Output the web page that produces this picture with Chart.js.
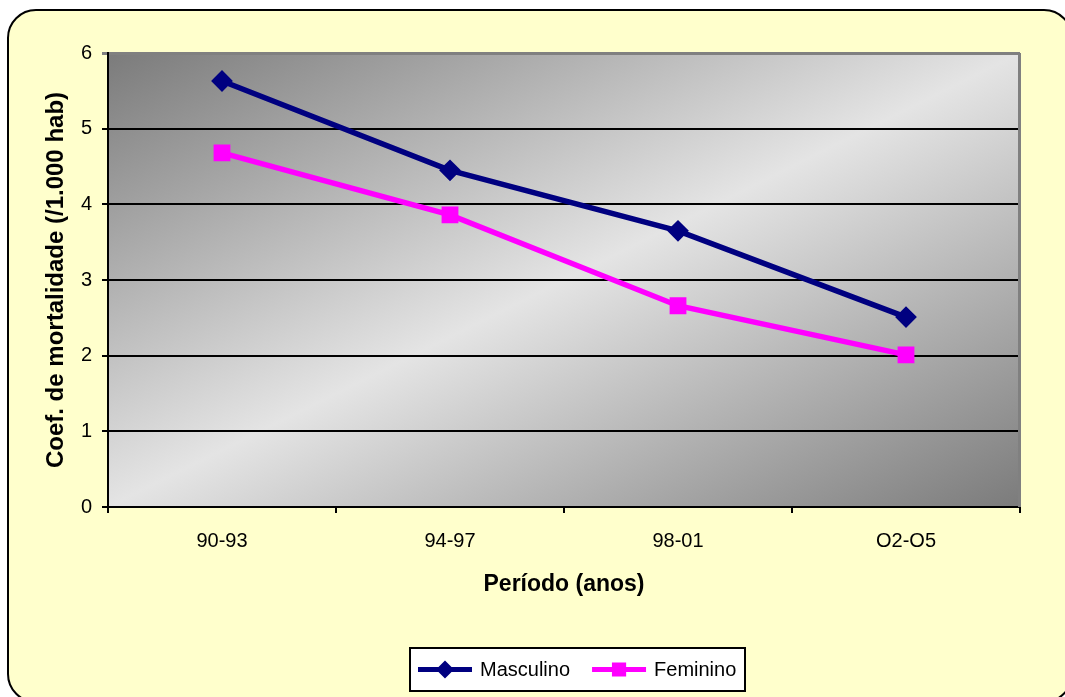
<!DOCTYPE html>
<html>
<head>
<meta charset="utf-8">
<title>Coeficiente de mortalidade</title>
<script src="https://cdn.jsdelivr.net/npm/chart.js@4.4.0/dist/chart.umd.min.js"></script>
<style>
  body { margin: 0; background: #fff; }
  canvas { display: block; }
</style>
</head>
<body>
<canvas id="mortalidadeChart" width="1065" height="697"></canvas>
<script>
// periods and mortality rate per 1000 inhabitants
const periodos = ['90-93', '94-97', '98-01', 'O2-O5'];
const masculino = [5.63, 4.45, 3.65, 2.51];
const feminino = [4.68, 3.86, 2.66, 2.01];
const yTicks = [0, 1, 2, 3, 4, 5, 6];

Chart.defaults.font.family = "'Liberation Sans', Arial, sans-serif";
Chart.defaults.color = '#000';

// yellow card with rounded border + grey gradient behind the plot
const frame = {
    id: 'frame',
    beforeDraw(chart) {
        const ctx = chart.ctx;
        const a = chart.chartArea;
        ctx.save();
        ctx.fillStyle = '#ffffff';
        ctx.fillRect(0, 0, chart.width, chart.height);

        ctx.beginPath();
        ctx.roundRect(8, 10, 1064, 692, 28);
        ctx.fillStyle = '#ffffcc';
        ctx.fill();
        ctx.lineWidth = 2;
        ctx.strokeStyle = '#000';
        ctx.stroke();

        // gradient runs across the anti-diagonal: dark corners top-left / bottom-right
        const w = a.right - a.left, h = a.bottom - a.top;
        const cx = (a.left + a.right) / 2, cy = (a.top + a.bottom) / 2;
        const len = Math.hypot(h, w);
        const nx = h / len, ny = w / len;
        const half = ((w / 2) * nx + (h / 2) * ny);
        const g = ctx.createLinearGradient(cx - nx * half, cy - ny * half, cx + nx * half, cy + ny * half);
        g.addColorStop(0, '#7b7b7b');
        g.addColorStop(0.5, '#e4e4e4');
        g.addColorStop(1, '#7b7b7b');
        ctx.fillStyle = g;
        ctx.fillRect(a.left, a.top, w, h);
        ctx.restore();
    },
    beforeDatasetsDraw(chart) {
        const ctx = chart.ctx;
        const a = chart.chartArea;
        ctx.save();
        ctx.strokeStyle = '#808080';
        ctx.lineWidth = 3;
        ctx.beginPath();
        ctx.moveTo(a.right - 0.5, a.top);
        ctx.lineTo(a.right - 0.5, a.bottom);
        ctx.stroke();
        ctx.restore();
    }
};

// legend box below the axis title: line + marker sample, then label
const legendBox = {
    id: 'legendBox',
    afterDraw(chart) {
        const ctx = chart.ctx;
        const x0 = 410, y0 = 648, bw = 335, bh = 43;
        ctx.save();
        ctx.fillStyle = '#fff';
        ctx.fillRect(x0, y0, bw, bh);
        ctx.lineWidth = 2;
        ctx.strokeStyle = '#000';
        ctx.strokeRect(x0, y0, bw, bh);

        ctx.font = "20px 'Liberation Sans', Arial, sans-serif";
        ctx.textBaseline = 'middle';
        const cy = y0 + bh / 2;
        let x = x0 + 8;
        chart.data.datasets.forEach(ds => {
            ctx.strokeStyle = ds.borderColor;
            ctx.lineWidth = 5;
            ctx.beginPath();
            ctx.moveTo(x, cy);
            ctx.lineTo(x + 54, cy);
            ctx.stroke();
            ctx.fillStyle = ds.borderColor;
            Chart.helpers.drawPoint(ctx, {
                pointStyle: ds.pointStyle,
                radius: ds.pointRadius - 1.5,
                rotation: 0,
                borderWidth: 1
            }, x + 27, cy);
            ctx.fillStyle = '#000';
            ctx.fillText(ds.label, x + 62, cy + 1);
            x += 62 + ctx.measureText(ds.label).width + 22;
        });
        ctx.restore();
    }
};

const ctx = document.getElementById('mortalidadeChart').getContext('2d');
new Chart(ctx, {
    type: 'line',
    data: {
        labels: periodos,
        datasets: [{
            label: 'Masculino',
            data: masculino,
            borderColor: '#000080',
            backgroundColor: '#000080',
            borderWidth: 5.5,
            pointStyle: 'rectRot',
            pointRadius: 7,
            pointHoverRadius: 7,
            tension: 0
        }, {
            label: 'Feminino',
            data: feminino,
            borderColor: '#ff00ff',
            backgroundColor: '#ff00ff',
            borderWidth: 5.5,
            pointStyle: 'rect',
            pointRadius: 8,
            pointHoverRadius: 8,
            tension: 0
        }]
    },
    options: {
        responsive: false,
        animation: false,
        layout: { padding: { left: 42, top: 53, right: 45, bottom: 99 } },
        plugins: {
            legend: { display: false },
            tooltip: { enabled: false }
        },
        scales: {
            x: {
                offset: true,
                afterFit(scale) { scale.height = 91; },
                grid: {
                    offset: true,
                    drawOnChartArea: false,
                    drawTicks: true,
                    tickLength: 6,
                    color: '#000',
                    lineWidth: 2
                },
                border: { color: '#000', width: 2 },
                ticks: { font: { size: 20 }, padding: 16, color: '#000' },
                title: {
                    display: true,
                    text: 'Período (anos)',
                    font: { size: 23, weight: 'bold' },
                    padding: 0,
                    color: '#000'
                }
            },
            y: {
                min: yTicks[0],
                max: yTicks[yTicks.length - 1],
                afterFit(scale) { scale.width = 66; },
                afterBuildTicks(scale) { scale.ticks = yTicks.map(v => ({ value: v })); },
                grid: {
                    tickLength: 6,
                    color: c => c.tick && c.tick.value === yTicks[yTicks.length - 1] ? '#808080' : '#000',
                    lineWidth: c => c.tick && c.tick.value === yTicks[yTicks.length - 1] ? 3 : 2
                },
                border: { color: '#000', width: 2 },
                ticks: { font: { size: 20 }, padding: 10, color: '#000' },
                title: {
                    display: true,
                    text: 'Coef. de mortalidade (/1.000 hab)',
                    font: { size: 24, weight: 'bold' },
                    padding: 0,
                    color: '#000'
                }
            }
        }
    },
    plugins: [frame, legendBox]
});
</script>
</body>
</html>
